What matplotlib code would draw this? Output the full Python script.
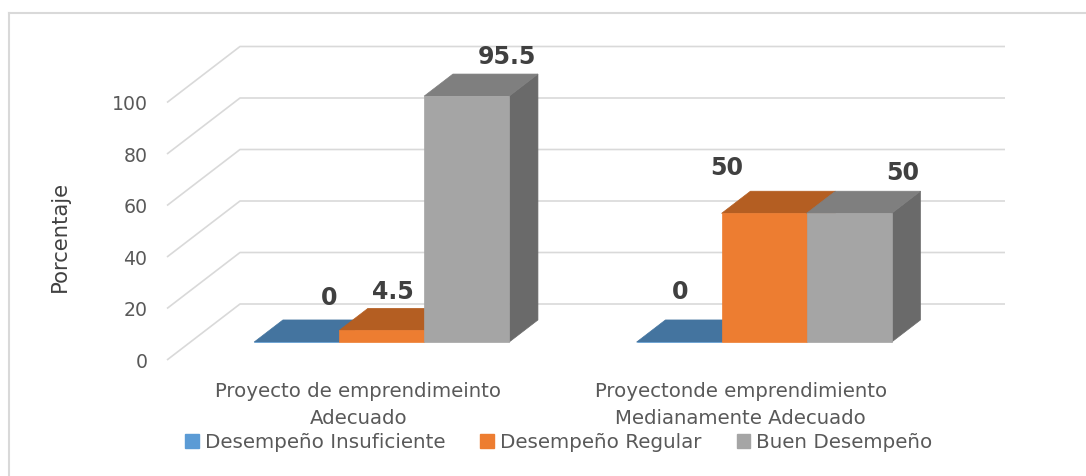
import matplotlib
matplotlib.use("Agg")
import matplotlib.pyplot as plt
from matplotlib.patches import Polygon, Patch
from matplotlib.lines import Line2D

# ---- data ----
categories = ["Proyecto de emprendimeinto\nAdecuado",
              "Proyectonde emprendimiento\nMedianamente Adecuado"]
series_names = ["Desempeño Insuficiente", "Desempeño Regular", "Buen Desempeño"]
insuficiente = [0, 0]
regular = [4.5, 50]
buen = [95.5, 50]
yticks = [0, 20, 40, 60, 80, 100]

series_values = [insuficiente, regular, buen]

# ---- style ----
front_colors = ["#5B9BD5", "#ED7D31", "#A5A5A5"]
top_colors = ["#44749F", "#B45E22", "#7F7F7F"]
side_colors = ["#3B6690", "#A0521C", "#6A6A6A"]
label_offsets = [[(13, 24), (-2, 20), (19, 20)],
                 [(-10, 28), (-37, 24.5), (28, 21)]]

plt.rcParams['font.family'] = ['DejaVu Sans']
W, H = 1086, 476
fig = plt.figure(figsize=(W / 100, H / 100), dpi=100)

# oblique depth offsets (data units)
DX = 73 / 382.5
DY = 21.75
ymax = 100

ax = fig.add_axes([167 / W, 116 / H, 838 / W, 313.5 / H])
ax.set_xlim(0, 2 + DX)
ax.set_ylim(0, ymax + DY)
for s in ax.spines.values():
    s.set_visible(False)
ax.set_xticks([])
ax.set_yticks(yticks)
ax.set_yticklabels([str(t) for t in yticks])
ax.tick_params(axis='y', length=0, pad=14, labelsize=13.6, labelcolor="#595959")
ax.patch.set_alpha(0)

grid_c = "#D9D9D9"
for t in yticks:
    ax.plot([0, DX, 2 + DX], [t, t + DY, t + DY], color=grid_c, lw=1.2,
            zorder=1, solid_capstyle='butt', clip_on=False)

z0, z1 = 0.32, 0.715
dz = z1 - z0
ncat = len(categories)
nser = len(series_values)
bw = 1 / 4.5
gap = 0.75 * bw
for i in range(ncat):
    for j in range(nser):
        v = series_values[j][i]
        xl = i + gap + j * bw + z0 * DX
        yb = z0 * DY
        xr = xl + bw
        ddx, ddy = dz * DX, dz * DY
        side = Polygon([(xr, yb), (xr, yb + v), (xr + ddx, yb + v + ddy), (xr + ddx, yb + ddy)],
                       closed=True, facecolor=side_colors[j], edgecolor=side_colors[j], lw=0.5, zorder=3)
        top = Polygon([(xl, yb + v), (xr, yb + v), (xr + ddx, yb + v + ddy), (xl + ddx, yb + v + ddy)],
                      closed=True, facecolor=top_colors[j], edgecolor=top_colors[j], lw=0.5, zorder=3)
        front = Polygon([(xl, yb), (xr, yb), (xr, yb + v), (xl, yb + v)],
                        closed=True, facecolor=front_colors[j], edgecolor=front_colors[j], lw=0.5, zorder=3)
        for p in (side, top, front):
            p.set_clip_on(False)
            ax.add_patch(p)
        cx = xl + bw / 2 + ddx / 2
        cy = yb + v + ddy / 2
        ax.annotate(f"{v:g}", xy=(cx, cy), xytext=label_offsets[i][j], textcoords="offset points",
                    ha="center", va="center", fontsize=17, fontweight="bold", color="#404040",
                    zorder=5, annotation_clip=False)

for i, c in enumerate(categories):
    ax.annotate(c, xy=(i + 0.5, 0), xytext=(0, -32.5), textcoords="offset points",
                ha="center", va="center", fontsize=14.2, color="#595959",
                linespacing=1.5, annotation_clip=False)

fig.text(60 / W, (H - 236) / H, "Porcentaje", rotation=90, ha="center", va="center",
         fontsize=15.2, color="#404040")

handles = [Patch(facecolor=c, edgecolor=c) for c in front_colors]
fig.legend(handles, series_names, loc="center", bbox_to_anchor=(559 / W, 34 / H), ncol=3,
           frameon=False, fontsize=14.3, handlelength=0.7, handleheight=0.7,
           handletextpad=0.3, columnspacing=1.75, labelcolor="#595959")

# chart border
bc = "#D9D9D9"
fig.add_artist(Line2D([8.5 / W, 8.5 / W], [0, (H - 13) / H], color=bc, lw=1.5))
fig.add_artist(Line2D([8.5 / W, 1], [(H - 13) / H, (H - 13) / H], color=bc, lw=1.5))

fig.savefig("out.png", dpi=100, facecolor="white")
